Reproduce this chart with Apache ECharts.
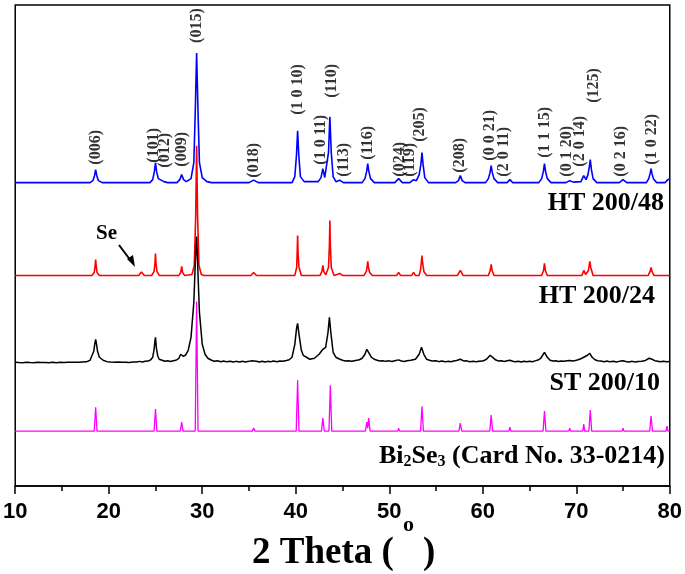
<!DOCTYPE html>
<html>
<head>
<meta charset="utf-8">
<script src="https://cdn.jsdelivr.net/npm/echarts@6/dist/echarts.min.js"></script>
<style>
  html, body { margin: 0; padding: 0; background: #fff; }
  #chart { width: 685px; height: 574px; }
</style>
</head>
<body>
<div id="chart"></div>
<script>
// 2 theta (deg) vs intensity (a.u.)
const ht48 = [
  [10,0],[18.0,0],[18.3,2],[18.48,7],[18.6,13],[18.72,7],[18.9,2],[19.3,0],
  [24.4,0],[24.7,3],[24.88,11],[25.0,20],[25.12,11],[25.3,4],[25.6,2.5],[25.9,1],[26.3,0],
  [27.3,0],[27.6,3],[27.8,8],[28.0,3],[28.3,1],
  [28.8,4],[29.1,20],[29.25,70],[29.4,130],[29.55,70],[29.7,20],[30.0,5],[30.5,1],[31,0],
  [35.0,0],[35.5,2.5],[36.0,0],
  [39.6,0],[39.9,6],[40.08,28],[40.2,52],[40.32,28],[40.5,6],[40.9,1],
  [42.4,1],[42.7,5],[42.9,14],[43.1,5],[43.3,6],[43.5,30],[43.65,66],[43.8,30],[44.0,6],[44.3,1],[44.7,2.5],[45.1,0],
  [47.1,0],[47.4,4],[47.58,11],[47.7,19],[47.82,11],[48.0,4],[48.4,0],
  [50.6,0],[51.0,4],[51.4,0],
  [52.2,0],[52.6,3],[52.9,2],[53.2,8],[53.38,18],[53.5,30],[53.62,18],[53.8,5],[54.2,0],
  [57.1,0],[57.4,2],[57.6,7],[57.8,2],[58.1,0],
  [60.3,0],[60.6,4],[60.78,10],[60.9,17],[61.02,10],[61.2,4],[61.6,0],
  [62.6,0],[62.9,3],[63.2,0],
  [66.0,0],[66.3,4],[66.48,11],[66.6,19],[66.72,11],[66.9,4],[67.3,0],
  [68.9,0],[69.3,2],[69.7,0.5],
  [70.5,1],[70.8,7],[71.05,3],[71.25,8],[71.4,16],[71.5,23],[71.62,13],[71.8,4],[72.2,0],
  [74.6,0],[75.0,3],[75.4,0],
  [77.5,0],[77.75,4],[77.9,9],[78.0,14],[78.1,9],[78.25,4],[78.6,0],
  [79.5,0],[79.8,3],[80,4]
]
const ht24 = [
  [10,0],[18.2,0],[18.45,3],[18.55,10],[18.6,16],[18.65,10],[18.75,3],[19.0,0],
  [23.2,0],[23.5,3.5],[23.8,0],
  [24.6,0],[24.85,4],[24.95,13],[25.0,22],[25.05,13],[25.15,4],[25.4,0],[25.6,1.5],[25.8,0],
  [27.5,0],[27.7,3],[27.8,9],[27.9,3],[28.1,0],
  [28.9,1],[29.15,10],[29.3,60],[29.4,130],[29.5,60],[29.65,10],[29.9,1],[30.2,0],
  [35.2,0],[35.5,3],[35.8,0],
  [39.9,0],[40.1,8],[40.15,22],[40.2,40],[40.25,22],[40.35,8],[40.6,0],
  [42.6,0],[42.8,4],[42.9,10],[43.0,4],[43.2,0.5],[43.5,8],[43.6,30],[43.65,55],[43.7,30],[43.8,8],[44.1,0],[44.7,2],[45.0,0],
  [47.3,0],[47.55,4],[47.65,10],[47.7,14],[47.78,8],[47.9,3],[48.2,0],
  [50.8,0],[51.0,3],[51.2,0],
  [52.4,0],[52.6,3],[52.8,0],
  [53.2,0],[53.35,6],[53.45,15],[53.5,20],[53.55,14],[53.7,4],[54.0,0],
  [57.3,0],[57.6,5],[57.9,0],
  [60.6,0],[60.8,5],[60.9,11],[61.0,5],[61.2,0],
  [62.7,0],[62.9,2],[63.1,0],
  [66.3,0],[66.5,5],[66.6,12],[66.7,5],[66.9,0],
  [69.1,0],[69.3,2],[69.5,0],
  [70.6,0],[70.8,5],[71.0,1],[71.3,5],[71.45,14],[71.55,8],[71.8,0],
  [74.8,0],[75.0,2],[75.2,0],
  [77.7,0],[77.9,4],[78.0,8],[78.1,4],[78.3,0],
  [80,0]
]
const st10 = [
  [10,0],[10.2,0.6],[10.4,-0.3],[10.6,0.5],[10.8,-0.4],[11,0.6],[11.2,0],[11.4,0.7],[11.6,-0.3],[11.8,0.4],[12,-0.5],
  [12.2,0.5],[12.4,0],[12.6,0.7],[12.8,-0.3],[13,0.5],[13.2,-0.2],[13.4,0.6],[13.6,-0.4],[13.8,0.4],[14,0],
  [14.2,0.6],[14.4,-0.4],[14.6,0.5],[14.8,0],[15,0.7],[15.2,-0.2],[15.4,0.6],[15.6,0],[15.8,0.8],[16,-0.1],
  [16.2,0.6],[16.4,0.1],[16.6,0.8],[16.8,0],[17,0.7],[17.2,0.2],[17.4,0.9],[17.6,0.4],[17.8,1.2],[18.0,2],
  [18.2,4],[18.4,11],[18.5,18],[18.6,23],[18.7,18],[18.8,11],[19.0,5],[19.2,3],[19.4,2],[19.6,1.2],[19.8,0.6],
  [20,1],[20.2,0.3],[20.4,0.9],[20.6,0.1],[20.8,0.8],[21,0.2],[21.2,0.9],[21.4,0],[21.6,0.7],[21.8,0.1],[22,0.8],
  [22.2,-0.2],[22.4,0.6],[22.6,0.2],[22.8,0.9],[23,0.3],[23.3,0.9],[23.6,0.3],[23.9,1],[24.2,1.2],[24.5,2.5],
  [24.7,5],[24.85,13],[24.95,22],[25.0,25],[25.1,14],[25.25,6],[25.4,3],[25.7,2],[26,1],[26.3,1.5],[26.6,0.8],
  [26.9,1.5],[27.2,2],[27.5,4],[27.7,8],[27.8,9],[27.95,6],[28.2,7],[28.5,12],[28.8,25],[29.1,60],[29.3,110],
  [29.4,126],[29.5,100],[29.7,50],[30.0,18],[30.3,8],[30.6,4],[31,2],[31.3,1],[31.6,1.5],[32,0.5],[32.3,1.2],
  [32.6,0.4],[33,1],[33.3,0.2],[33.6,0.9],[34,0.2],[34.3,1],[34.6,0.3],[35,0.9],[35.3,1.5],[35.5,2.2],[35.8,1],
  [36.1,0.3],[36.4,1],[36.7,0.2],[37,0.9],[37.3,0.4],[37.6,1.2],[38,0.5],[38.3,1.3],[38.6,1],[39,1.8],[39.3,2.5],
  [39.6,5],[39.9,18],[40.1,35],[40.2,39],[40.35,28],[40.6,12],[40.8,7],[41,5],[41.5,3],[42,4],[42.5,8],[42.9,13],
  [43.2,15],[43.45,30],[43.6,45],[43.75,30],[44,10],[44.3,5],[44.6,3.5],[45,2],[45.3,1.2],[45.6,1.6],[46,1],
  [46.4,1.8],[46.8,2.5],[47.1,4],[47.4,8],[47.6,13],[47.8,11],[48.1,5],[48.4,3],[48.7,2],[49,1.2],[49.3,1.6],
  [49.6,0.9],[50,1.4],[50.3,0.8],[50.6,1.5],[51,2.4],[51.3,1.2],[51.6,0.8],[51.9,1.5],[52.3,2],[52.8,3],
  [53.2,8],[53.45,15],[53.7,8],[54,3],[54.3,2],[54.6,1.2],[55,1.5],[55.3,0.6],[55.6,1.2],[56,0.4],[56.3,1.1],
  [56.6,0.6],[56.9,1.2],[57.2,1.8],[57.6,3],[58.0,1.2],[58.3,1.4],[58.6,0.5],[59,1.1],[59.3,0.4],[59.6,1],
  [60,1.2],[60.4,3],[60.8,7],[61.0,6],[61.4,2.2],[61.7,1.3],[62,1.6],[62.3,0.8],[62.6,1.5],[62.9,2],[63.2,1],
  [63.5,0.4],[63.8,1],[64.1,0.3],[64.4,1],[64.7,0.5],[65,1.1],[65.3,0.6],[65.6,1.4],[65.9,2.2],[66.2,4],[66.6,10],
  [66.9,5],[67.2,2],[67.5,1.3],[67.8,1.6],[68.1,0.8],[68.4,1.3],[68.7,1],[69,1.5],[69.3,1.8],[69.6,1.2],[69.9,1.8],
  [70.2,2.5],[70.5,3.5],[70.8,5],[71.2,7],[71.45,9],[71.7,5],[72,2.5],[72.3,1.5],[72.6,1.2],[73,0.6],[73.3,1.2],
  [73.6,0.4],[74,1],[74.3,0.3],[74.6,0.9],[75,1.5],[75.3,0.8],[75.6,0.3],[76,0.9],[76.3,0.2],[76.6,0.8],[77,1],
  [77.4,1.8],[77.8,4],[78.1,3],[78.4,1.6],[78.7,1],[79,0.4],[79.3,1],[79.7,0.4],[80,0.8]
]
const card = [
  [10,0],
  [18.45,0],[18.6,24],[18.75,0],
  [24.85,0],[25.0,22],[25.15,0],
  [25.5,0],[25.6,2],[25.7,0],
  [27.65,0],[27.8,9],[27.95,0],
  [29.25,0],[29.4,130],[29.55,0],
  [33.1,0],[33.2,1],[33.3,0],
  [35.35,0],[35.5,3],[35.65,0],
  [37.7,0],[37.8,1],[37.9,0],
  [40.05,0],[40.2,51],[40.35,0],
  [42.75,0],[42.9,13],[43.05,0],
  [43.55,0],[43.7,46],[43.85,0],
  [44.6,0],[44.7,2],[44.8,0],
  [47.45,0],[47.6,9],[47.7,3],[47.8,13],[47.95,0],
  [48.4,0],[48.5,2],[48.6,0],
  [50.9,0],[51.0,3],[51.1,0],
  [52.5,0],[52.6,2],[52.7,0],
  [53.35,0],[53.5,25],[53.65,0],
  [57.45,0],[57.6,8],[57.75,0],
  [58.9,0],[59.0,1],[59.1,0],
  [60.75,0],[60.9,16],[61.05,0],
  [62.8,0],[62.9,4],[63.0,0],
  [66.45,0],[66.6,20],[66.75,0],
  [67.2,0],[67.3,1],[67.4,0],
  [68.8,0],[68.9,2],[69.0,0],
  [69.2,0],[69.3,3],[69.4,0],
  [70.7,0],[70.8,7],[70.9,0],
  [71.35,0],[71.5,21],[71.65,0],
  [74.9,0],[75.0,3],[75.1,0],
  [75.2,0],[75.3,2],[75.4,0],
  [77.85,0],[78.0,15],[78.15,0],
  [79.6,0],[79.7,5],[79.8,0],[80,0]
]

// reflections marked on the top pattern
const hklNames = ['(006)','(101)','(012)','(009)','(015)','(018)','(1 0 10)','(1 0 11)','(110)','(113)','(116)',
  '(024)','(119)','(205)','(208)','(0 0 21)','(2 0 11)','(1 1 15)','(0 1 20)','(2 0 14)','(125)','(0 2 16)','(1 0 22)']
// where each label sits: [2theta, bottom of text in axis units]
const hklAnchor = [[18.6,322],[24.85,324],[26.0,319],[27.8,320],[29.4,444],[35.5,309],[40.2,372],[42.7,322],[43.9,389],
  [45.1,310],[47.7,327],[51.1,310],[52.2,310],[53.3,345],[57.5,314],[60.8,326],[62.3,310],[66.6,329],[69.0,310],
  [70.4,320],[71.9,384],[74.8,310],[78.1,322]]

const xTicks = [10, 20, 30, 40, 50, 60, 70, 80]

// vertical stacking of the patterns
const offsets = { ht48: 304, ht24: 211, st10: 124, card: 55 }

const SERIF = "'Liberation Serif', 'Times New Roman', serif"

function shift(arr, dy) {
  return arr.map(p => [p[0], p[1] + dy])
}

const chart = echarts.init(document.getElementById('chart'))

const lineSeries = (name, data, dy, color, width) => ({
  name: name,
  type: 'line',
  data: shift(data, dy),
  smooth: false,
  showSymbol: false,
  symbol: 'none',
  animation: false,
  lineStyle: { color: color, width: width },
  silent: true
})

chart.setOption({
  animation: false,
  grid: {
    left: 12, right: 13, top: 5, bottom: 88,
    show: true, borderColor: '#000', borderWidth: 1.5
  },
  xAxis: {
    type: 'value',
    min: xTicks[0],
    max: xTicks[xTicks.length - 1],
    interval: 10,
    axisLine: { show: true, lineStyle: { color: '#000', width: 1.5 } },
    axisTick: { show: true, inside: false, length: 8, lineStyle: { color: '#000', width: 1.5 } },
    minorTick: { show: true, splitNumber: 2, length: 5, lineStyle: { color: '#000', width: 1.5 } },
    splitLine: { show: false },
    axisLabel: {
      margin: 15, color: '#000', fontSize: 22, fontWeight: 'bold',
      fontFamily: "'Liberation Sans', Arial, sans-serif"
    }
  },
  yAxis: {
    type: 'value', min: 0, max: 482, show: false
  },
  series: [
    lineSeries('HT 200/48', ht48, offsets.ht48, '#0000ff', 1.6),
    lineSeries('HT 200/24', ht24, offsets.ht24, '#ff0000', 1.6),
    lineSeries('ST 200/10', st10, offsets.st10, '#000000', 1.5),
    lineSeries('Bi2Se3', card, offsets.card, '#ff00ff', 1.3),
    {
      type: 'scatter',
      symbol: 'circle',
      symbolSize: 1,
      itemStyle: { color: 'rgba(0,0,0,0)' },
      animation: false,
      silent: true,
      data: hklNames.map((n, i) => ({ name: n, value: hklAnchor[i] })),
      label: {
        show: true,
        position: 'inside',
        rotate: 90,
        align: 'left',
        verticalAlign: 'middle',
        formatter: p => p.name,
        fontFamily: SERIF,
        fontWeight: 'bold',
        fontSize: 16,
        color: '#000'
      }
    }
  ],
  graphic: [
    { type: 'text', right: 21, top: 190, style: { text: 'HT 200/48', font: 'bold 26px ' + SERIF, fill: '#000' } },
    { type: 'text', right: 30, top: 283, style: { text: 'HT 200/24', font: 'bold 26px ' + SERIF, fill: '#000' } },
    { type: 'text', right: 25, top: 370, style: { text: 'ST 200/10', font: 'bold 26px ' + SERIF, fill: '#000' } },
    {
      type: 'text', right: 20, top: 443,
      style: {
        text: 'Bi{sub|2}Se{sub|3} (Card No. 33-0214)',
        font: 'bold 26px ' + SERIF, fill: '#000',
        rich: { sub: { font: 'bold 16px ' + SERIF, fill: '#000', verticalAlign: 'bottom', padding: [12, 0, 0, 0] } }
      }
    },
    { type: 'text', left: 96, top: 223, style: { text: 'Se', font: 'bold 21px ' + SERIF, fill: '#000' } },
    { type: 'line', shape: { x1: 119, y1: 245, x2: 131, y2: 261 }, style: { stroke: '#000', lineWidth: 2 } },
    { type: 'polygon', shape: { points: [[135, 267], [127, 259], [133, 255]] }, style: { fill: '#000' } },
    // axis title
    { type: 'text', left: 252, top: 535, style: { text: '2 Theta (', font: 'bold 37px ' + SERIF, fill: '#000' } },
    { type: 'text', left: 403, top: 514, style: { text: 'o', font: 'bold 22px ' + SERIF, fill: '#000' } },
    { type: 'text', left: 423, top: 535, style: { text: ')', font: 'bold 37px ' + SERIF, fill: '#000' } }
  ]
})
</script>
</body>
</html>
